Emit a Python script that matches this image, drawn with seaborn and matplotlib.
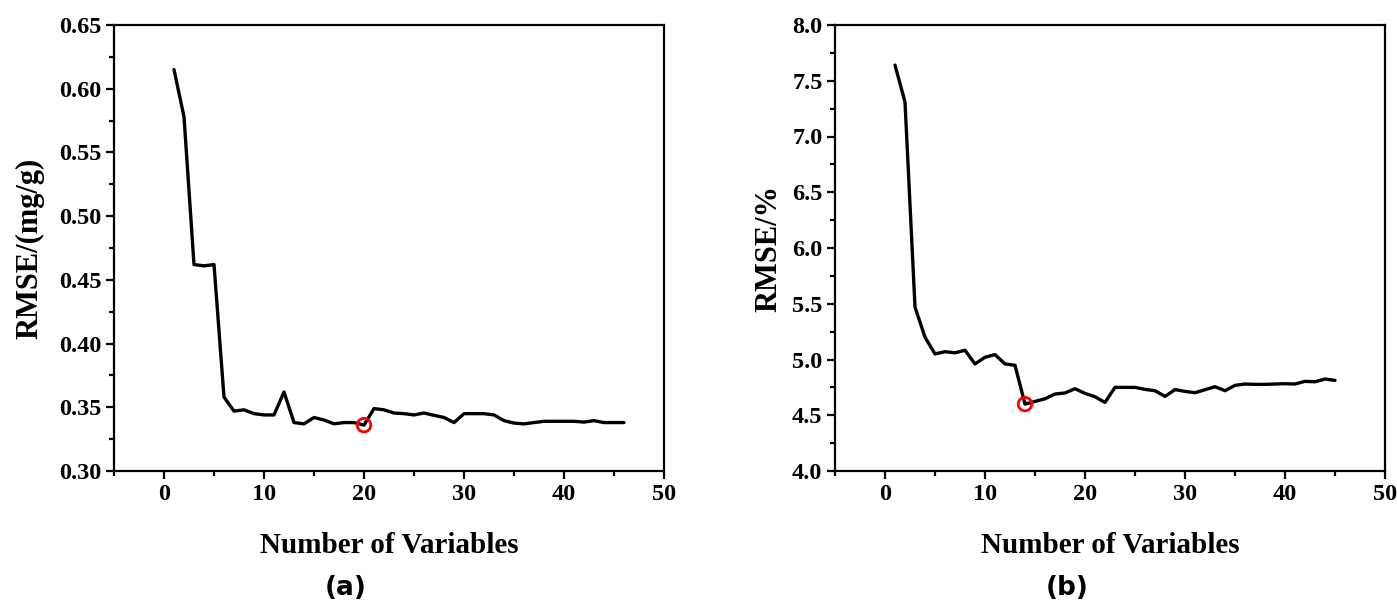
import numpy as np
import pandas as pd
import matplotlib
matplotlib.use("Agg")
import matplotlib.pyplot as plt
import seaborn as sns
from matplotlib.ticker import MultipleLocator, FormatStrFormatter

# ---------------- data ----------------
vars_a = list(range(1, 47))
rmse_a = [0.615, 0.578, 0.462, 0.461, 0.462, 0.358, 0.347, 0.348, 0.345, 0.344,
          0.344, 0.362, 0.338, 0.337, 0.342, 0.340, 0.337, 0.338, 0.338, 0.336,
          0.349, 0.348, 0.3455, 0.345, 0.344, 0.3455, 0.3437, 0.342, 0.338, 0.345,
          0.345, 0.345, 0.344, 0.3395, 0.3376, 0.337, 0.338, 0.339, 0.339, 0.339,
          0.339, 0.3384, 0.3395, 0.338, 0.338, 0.338]
best_a_x = [20]
best_a_y = [0.336]

vars_b = list(range(1, 46))
rmse_b = [7.64, 7.31, 5.47, 5.20, 5.05, 5.07, 5.06, 5.083, 4.96, 5.02,
          5.044, 4.96, 4.948, 4.60, 4.624, 4.648, 4.69, 4.70, 4.738, 4.696,
          4.666, 4.615, 4.75, 4.75, 4.75, 4.732, 4.72, 4.669, 4.73, 4.714,
          4.702, 4.729, 4.756, 4.72, 4.768, 4.78, 4.777, 4.777, 4.78, 4.783,
          4.78, 4.804, 4.80, 4.825, 4.813]
best_b_x = [14]
best_b_y = [4.60]

x_label = "Number of Variables"
y_label_a = "RMSE/(mg/g)"
y_label_b = "RMSE/%"
panel_a = "(a)"
panel_b = "(b)"

# ---------------- style ----------------
sns.set_style("ticks")
plt.rcParams['font.family'] = ['Liberation Serif', 'DejaVu Serif']
plt.rcParams['font.weight'] = 'bold'
plt.rcParams['axes.labelweight'] = 'bold'
for k in ['text.color', 'axes.labelcolor', 'xtick.color', 'ytick.color', 'axes.edgecolor']:
    plt.rcParams[k] = 'black'

W, H = 1397, 605
fig = plt.figure(figsize=(W / 100, H / 100), dpi=100)
fig.patch.set_facecolor("white")

ax_a = fig.add_axes([114 / W, 1 - 471 / H, 550 / W, 446 / H])
ax_b = fig.add_axes([835 / W, 1 - 471 / H, 550 / W, 446 / H])

df_a = pd.DataFrame({"n": vars_a, "rmse": rmse_a})
df_b = pd.DataFrame({"n": vars_b, "rmse": rmse_b})

sns.lineplot(data=df_a, x="n", y="rmse", ax=ax_a, color="black", linewidth=2.4, zorder=2)
sns.lineplot(data=df_b, x="n", y="rmse", ax=ax_b, color="black", linewidth=2.4, zorder=2)

for ax, bx, by in [(ax_a, best_a_x, best_a_y), (ax_b, best_b_x, best_b_y)]:
    sns.scatterplot(x=bx, y=by, ax=ax, marker="o", s=95, facecolors="none",
                    edgecolors="#ff0000", linewidth=2.0, zorder=3)

def style_axis(ax, ylim, ymajor, yfmt, ylabel, ylab_x):
    ax.set_xlim(-5, 50)
    ax.set_ylim(*ylim)
    ax.xaxis.set_major_locator(MultipleLocator(10))
    ax.xaxis.set_minor_locator(MultipleLocator(5))
    ax.yaxis.set_major_locator(MultipleLocator(ymajor))
    ax.yaxis.set_minor_locator(MultipleLocator(ymajor / 2))
    ax.yaxis.set_major_formatter(FormatStrFormatter(yfmt))
    ax.tick_params(which="major", direction="out", length=6, width=1.6,
                   labelsize=17.5, pad=3, top=False, right=False, colors="black")
    ax.tick_params(which="minor", direction="out", length=3.5, width=1.6,
                   top=False, right=False, colors="black")
    for lab in ax.get_xticklabels() + ax.get_yticklabels():
        lab.set_fontweight("bold")
    for sp in ax.spines.values():
        sp.set_visible(True)
        sp.set_linewidth(1.6)
        sp.set_color("black")
    ax.set_xlabel(x_label, fontsize=21, fontweight="bold", color="black")
    ax.set_ylabel(ylabel, fontsize=22, fontweight="bold", color="black")
    ax.xaxis.set_label_coords(0.5, -0.137)
    ax.yaxis.set_label_coords(ylab_x, 0.5)
    ax.grid(False)

style_axis(ax_a, (0.30, 0.65), 0.05, "%.2f", y_label_a, -0.127)
style_axis(ax_b, (4.0, 8.0), 0.5, "%.1f", y_label_b, -0.094)

fig.text(346 / W, 1 - 588 / H, panel_a, ha="center", va="center", fontsize=19,
         fontweight="bold", family=["DejaVu Sans"], color="black")
fig.text(1067 / W, 1 - 588 / H, panel_b, ha="center", va="center", fontsize=19,
         fontweight="bold", family=["DejaVu Sans"], color="black")

fig.savefig("out.png", dpi=100, facecolor="white")
